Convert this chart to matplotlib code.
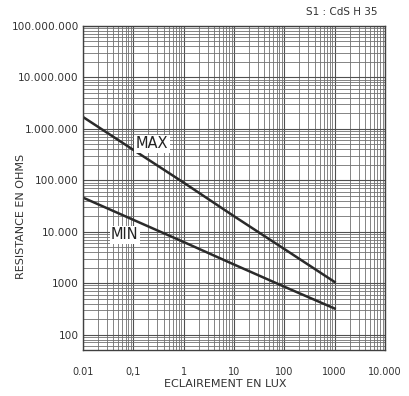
import numpy as np
import matplotlib
matplotlib.use("Agg")
import matplotlib.pyplot as plt
from matplotlib.ticker import LogLocator, FixedLocator, NullFormatter

# data (log-log straight lines)
lux = [0.01, 0.1, 1, 10, 100, 1000]
r_max = [1.7e6, 3.9e5, 9.0e4, 2.0e4, 4.6e3, 1.05e3]
r_min = [46000, 17000, 6300, 2300, 850, 320]

x_ticks = [0.01, 0.1, 1, 10, 100, 1000, 10000]
x_labels = ["0.01", "0,1", "1", "10", "100", "1000", "10.000"]
y_ticks = [1e2, 1e3, 1e4, 1e5, 1e6, 1e7, 1e8]
y_labels = ["100", "1000", "10.000", "100.000", "1.000.000", "10.000.000", "100.000.000"]

plt.rcParams['font.family'] = ['DejaVu Sans']

fig = plt.figure(figsize=(4.10, 3.96), dpi=100)
ax = fig.add_axes([83/410, 1-350/396, (385-83)/410, (350-26)/396])

ax.set_xscale('log')
ax.set_yscale('log')
ax.set_xlim(0.01, 10000)
ax.set_ylim(50, 1e8)

# log paper grid
ax.xaxis.set_minor_locator(LogLocator(base=10, subs=np.arange(2, 10)))
ax.yaxis.set_minor_locator(LogLocator(base=10, subs=np.arange(2, 10)))
ax.xaxis.set_minor_formatter(NullFormatter())
ax.yaxis.set_minor_formatter(NullFormatter())
ax.grid(which='major', color='#505050', lw=0.8)
ax.grid(which='minor', color='#707070', lw=0.6)
ax.set_axisbelow(True)

ax.xaxis.set_major_locator(FixedLocator(x_ticks))
ax.set_xticklabels(x_labels)
ax.yaxis.set_major_locator(FixedLocator(y_ticks))
ax.set_yticklabels(y_labels)
ax.tick_params(which='both', length=0)
ax.tick_params(axis='x', pad=12, labelsize=7, colors='#333333')
ax.tick_params(axis='y', pad=3, labelsize=7.6, colors='#333333')
for s in ax.spines.values():
    s.set_color('#404040')
    s.set_linewidth(1.0)

ax.plot(lux, r_max, color='#2a2a2a', lw=1.8)
ax.plot(lux, r_min, color='#2a2a2a', lw=1.8)

box = dict(facecolor='white', edgecolor='none', pad=1)
ax.text(0.234, 5.1e5, "MAX", fontsize=10.5, color='#222222', ha='center', va='center', bbox=box)
ax.text(0.068, 8.7e3, "MIN", fontsize=10.5, color='#222222', ha='center', va='center', bbox=box)

fig.text(225/410, 1-384/396, "ECLAIREMENT EN LUX", fontsize=8, color='#333333', ha='center', va='center')
fig.text(21/410, 1-216/396, "RESISTANCE EN OHMS", fontsize=8, color='#333333', ha='center', va='center', rotation=90)
fig.text(378/410, 1-12/396, "S1 : CdS H 35", fontsize=7.5, color='#333333', ha='right', va='center')

fig.savefig("out.png", dpi=100)
